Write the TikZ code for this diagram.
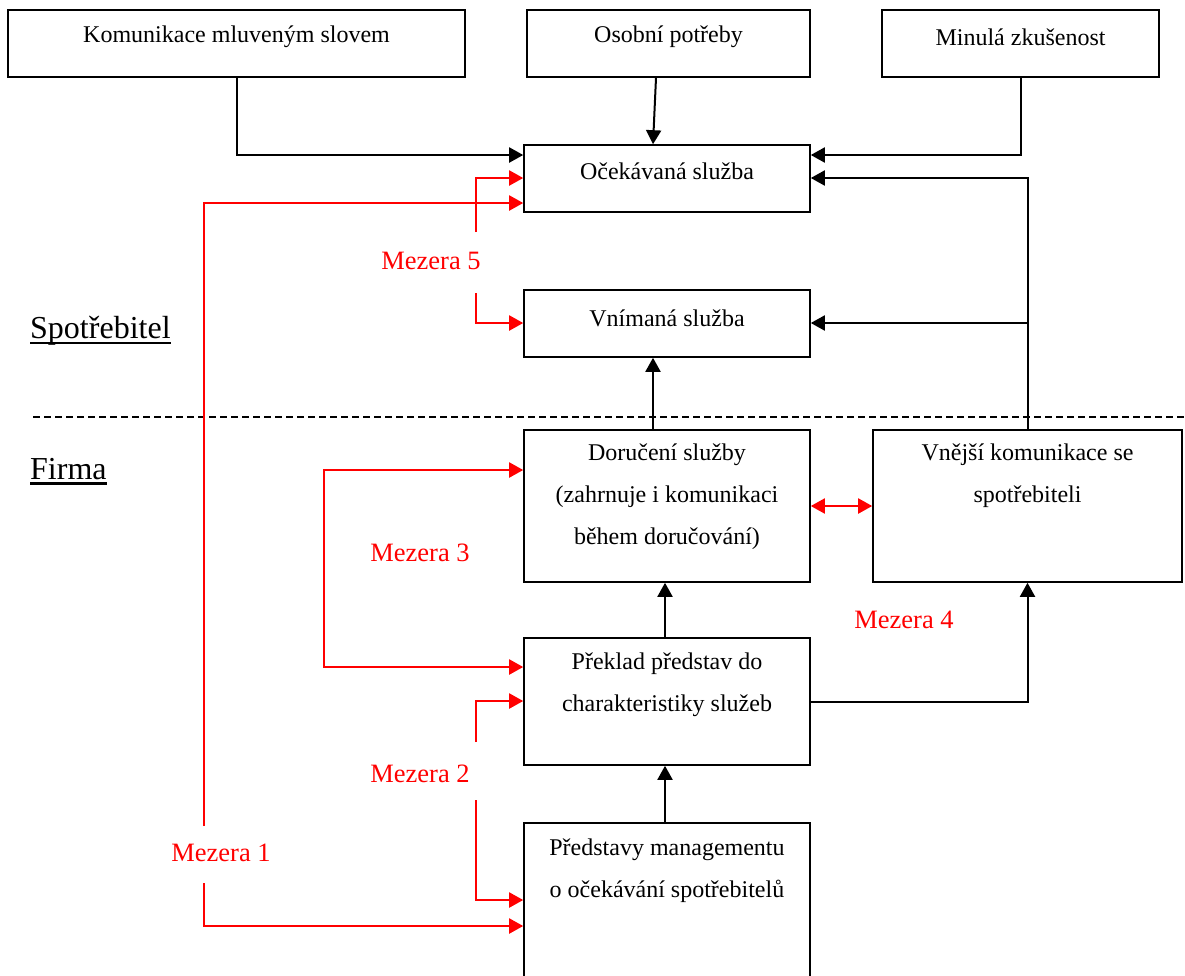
\documentclass[tikz,border=0pt]{standalone}
\usepackage{fontspec}
\setmainfont{Liberation Serif}
\usetikzlibrary{arrows.meta}
\tikzset{
  box/.style={draw=black, line width=1.6pt, rectangle, inner sep=0pt},
  boxtext/.style={align=center, inner sep=0pt, font=\fontsize{24}{42}\selectfont},
  gaptext/.style={text=red, inner sep=0pt, font=\fontsize{26.5}{30}\selectfont},
  sidetext/.style={inner sep=0pt, font=\fontsize{32}{36}\selectfont},
  uline/.style={draw=black, line width=2.2pt},
  barr/.style={draw=black, line width=2pt, -{Triangle[length=14pt,width=15pt]}},
  rarr/.style={draw=red, line width=2pt, -{Triangle[length=14pt,width=15pt]}},
  rboth/.style={draw=red, line width=2pt, {Triangle[length=14pt,width=15pt]}-{Triangle[length=14pt,width=15pt]}},
}
\begin{document}
\begin{tikzpicture}[x=1pt,y=-1pt]
\clip (0,0) rectangle (1185,975);
\fill[white] (0,0) rectangle (1185,975);

% boxes
\node[box, minimum width=457pt, minimum height=67pt] (top1) at (236.5,43.5) {};
\node[box, minimum width=283pt, minimum height=67pt] (top2) at (668.5,43.5) {};
\node[box, minimum width=277pt, minimum height=67pt] (top3) at (1020.5,43.5) {};
\node[box, minimum width=286pt, minimum height=67pt] (oc) at (667,178.5) {};
\node[box, minimum width=286pt, minimum height=67pt] (vn) at (667,323.5) {};
\node[box, minimum width=286pt, minimum height=152pt] (dor) at (667,506) {};
\node[box, minimum width=309pt, minimum height=152pt] (vne) at (1027.5,506) {};
\node[box, minimum width=286pt, minimum height=127pt] (pre) at (667,701.5) {};
\node[box, minimum width=286pt, minimum height=167pt] (man) at (667,906.5) {};

% box texts
\node[boxtext] (t1) at (236.5,37) {Komunikace mluveným slovem};
\node[boxtext] (t2) at (668.5,37) {Osobní potřeby};
\node[boxtext] (t3) at (1020.5,37) {Minulá zkušenost};
\node[boxtext] (toc) at (667,171) {Očekávaná služba};
\node[boxtext] (tvn) at (667,318) {Vnímaná služba};
\node[boxtext] (tdor) at (667,497) {Doručení služby\\(zahrnuje i komunikaci\\během doručování)};
\node[boxtext] (tvne) at (1027.5,476) {Vnější komunikace se\\spotřebiteli};
\node[boxtext] (tpre) at (667,685) {Překlad představ do\\charakteristiky služeb};
\node[boxtext] (tman) at (667,871) {Představy managementu\\o očekávání spotřebitelů};

% side labels
\node[sidetext, anchor=west] (spot) at (30,331) {Spotřebitel};
\node[sidetext, anchor=west] (firma) at (30,469) {Firma};
\draw[uline] ([yshift=-4pt]spot.base west) -- ([yshift=-4pt]spot.base east);
\draw[uline] ([yshift=-4pt]firma.base west) -- ([yshift=-4pt]firma.base east);
\draw[line width=1.5pt, dash pattern=on 7pt off 4pt] (33,417) -- (1185,417);

% gap labels
\node[gaptext] (g5) at (431,261) {Mezera 5};
\node[gaptext] (g3) at (420,553) {Mezera 3};
\node[gaptext] (g2) at (420,774) {Mezera 2};
\node[gaptext] (g1) at (221,853) {Mezera 1};
\node[gaptext] (g4) at (904,620) {Mezera 4};

% free-end coordinates
\coordinate (m5a) at (476,232);
\coordinate (m5b) at (476,293);
\coordinate (m1a) at (204,826);
\coordinate (m1b) at (204,883);
\coordinate (m3c) at (324,570);
\coordinate (m2a) at (476,742);
\coordinate (m2b) at (476,800);

% black connectors
\draw[barr] (top1.south) |- (oc.west |- 0,155);
\draw[barr] (top2.south -| 656,0) -- (oc.north -| 653,0);
\draw[barr] (top3.south) |- (oc.east |- 0,155);
\draw[barr] (vne.north) |- (oc.east |- 0,178);
\draw[barr] (vne.north |- 0,323) -- (vn.east |- 0,323);
\draw[barr] (dor.north -| 653,0) -- (vn.south -| 653,0);
\draw[barr] (pre.north -| 665,0) -- (dor.south -| 665,0);
\draw[barr] (man.north -| 665,0) -- (pre.south -| 665,0);
\draw[barr] (pre.east) -| (vne.south);

% red connectors
\draw[rarr] (m5a) |- (oc.west |- 0,178);
\draw[rarr] (m5b) |- (vn.west |- 0,323);
\draw[rarr] (m1a) |- (oc.west |- 0,203);
\draw[rarr] (m1b) |- (man.west |- 0,926);
\draw[rboth] (dor.west |- 0,470) -| (m3c) |- (pre.west |- 0,667);
\draw[rarr] (m2a) |- (pre.west |- 0,701);
\draw[rarr] (m2b) |- (man.west |- 0,900);
\draw[rboth] (dor.east) -- (vne.west);
\end{tikzpicture}
\end{document}
